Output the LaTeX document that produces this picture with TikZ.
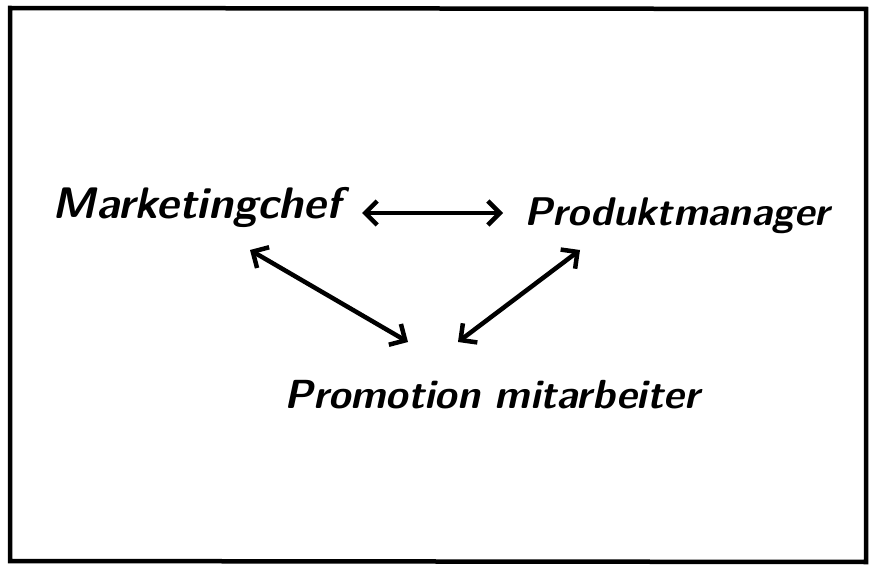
\documentclass[tikz,border=0pt]{standalone}
\usetikzlibrary{arrows.meta}
\begin{document}
\begin{tikzpicture}[x=1pt,y=-1pt,
  lbl/.style={font=\fontsize{50}{56}\selectfont\sffamily\bfseries\itshape, inner sep=0pt, anchor=base},
  link/.style={line width=4.5pt, {Straight Barb[length=12pt,width=24pt,line width=4.5pt]}-{Straight Barb[length=12pt,width=24pt,line width=4.5pt]}}]
\useasboundingbox (0,0) rectangle (871,567);
\draw[line width=4.5pt] (10,8) -- (866,9) -- (866,562) -- (10,561) -- cycle;
\node[lbl] (chef) at (197,219) {\resizebox{288pt}{!}{Marketingchef}};
\node[lbl] (mgr) at (677,226) {\resizebox{305pt}{!}{Produktmanager}};
\node[lbl] (promo) at (492,408) {\resizebox{415pt}{!}{Promotion mitarbeiter}};
\coordinate (h1) at (362,213);
\coordinate (h2) at (503,213);
\coordinate (c1) at (250,250);
\coordinate (p1) at (408,342);
\coordinate (m1) at (580,250);
\coordinate (p2) at (458,342);
\draw[link] (h1) -- (h2);
\draw[link] (c1) -- (p1);
\draw[link] (m1) -- (p2);
\end{tikzpicture}
\end{document}
